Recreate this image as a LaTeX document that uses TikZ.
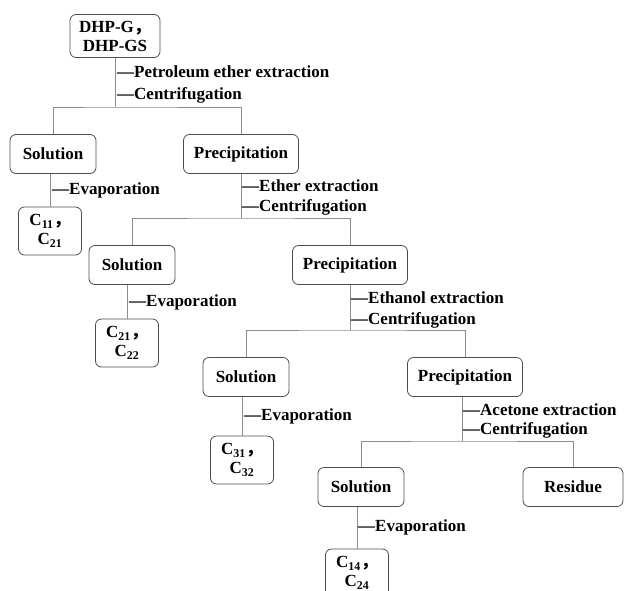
\documentclass[tikz,border=0pt]{standalone}
\usepackage{fontspec}
\setmainfont{Liberation Serif}
\newfontfamily\cjk{Noto Sans CJK SC}
\usepackage{tikz}
\usetikzlibrary{positioning}

\newcommand{\zc}{{\cjk ，}}

\begin{document}
\begin{tikzpicture}[x=1pt,y=-1pt,
	box/.style={draw=black!70,line width=0.8pt,rounded corners=6pt,inner sep=1pt,
		font=\fontsize{17}{19}\selectfont\bfseries,align=center,minimum height=39pt},
	solbox/.style={box,minimum width=86pt},
	prebox/.style={box,minimum width=115pt},
	cbox/.style={box,minimum width=63pt,minimum height=48pt},
	steplabel/.style={anchor=west,inner sep=0pt,font=\fontsize{17}{19}\selectfont\bfseries},
	link/.style={draw=black!45,line width=0.8pt}]
	\path[use as bounding box,clip] (0,0) rectangle (624,590);

	% boxes
	\node[box,minimum width=90pt,minimum height=43pt] (dhp) at (115,36) {DHP-G\zc\\DHP-GS};
	\node[solbox] (sol1) at (53,154) {Solution};
	\node[prebox] (pre1) at (241,154) {Precipitation};
	\node[cbox] (c1) at (50,231) {C\textsubscript{11}\zc\\C\textsubscript{21}};
	\node[solbox] (sol2) at (132,265) {Solution};
	\node[prebox] (pre2) at (350,265) {Precipitation};
	\node[cbox] (c2) at (127,343) {C\textsubscript{21}\zc\\C\textsubscript{22}};
	\node[solbox] (sol3) at (246,377) {Solution};
	\node[prebox] (pre3) at (465,377) {Precipitation};
	\node[cbox] (c3) at (242,460) {C\textsubscript{31}\zc\\C\textsubscript{32}};
	\node[solbox] (sol4) at (361,487) {Solution};
	\node[box,minimum width=100pt] (res) at (573,487) {Residue};
	\node[cbox] (c4) at (357,573) {C\textsubscript{14}\zc\\C\textsubscript{24}};

	% split points
	\coordinate (s1) at (115,107);
	\coordinate (s2) at (241,218);
	\coordinate (s3) at (350,330);
	\coordinate (s4) at (462,441);

	% connectors
	\draw[link] (dhp) -- (s1);
	\draw[link] (sol1.north) |- (s1) -| (pre1.north);
	\draw[link] (pre1) -- (s2);
	\draw[link] (sol2.north) |- (s2) -| (pre2.north);
	\draw[link] (pre2) -- (s3);
	\draw[link] (sol3.north) |- (s3) -| (pre3.north);
	\draw[link] (pre3.south -| s4) -- (s4);
	\draw[link] (sol4.north) |- (s4) -| (res.north);
	\draw[link] (sol1.south -| c1) -- (c1.north);
	\draw[link] (sol2.south -| c2) -- (c2.north);
	\draw[link] (sol3.south -| c3) -- (c3.north);
	\draw[link] (sol4.south -| c4) -- (c4.north);

	% step labels
	\node[steplabel] (l1a) at (117,72) {—Petroleum ether extraction};
	\node[steplabel] (l1b) at (117,95) {—Centrifugation};
	\node[steplabel] (e1) at (52,190) {—Evaporation};
	\node[steplabel] (l2a) at (242,186) {—Ether extraction};
	\node[steplabel] (l2b) at (242,207) {—Centrifugation};
	\node[steplabel] (e2) at (129,302) {—Evaporation};
	\node[steplabel] (l3a) at (351,298) {—Ethanol extraction};
	\node[steplabel] (l3b) at (351,320) {—Centrifugation};
	\node[steplabel] (e3) at (244,416) {—Evaporation};
	\node[steplabel] (l4a) at (463,410) {—Acetone extraction};
	\node[steplabel] (l4b) at (463,430) {—Centrifugation};
	\node[steplabel] (e4) at (358,527) {—Evaporation};
\end{tikzpicture}
\end{document}
